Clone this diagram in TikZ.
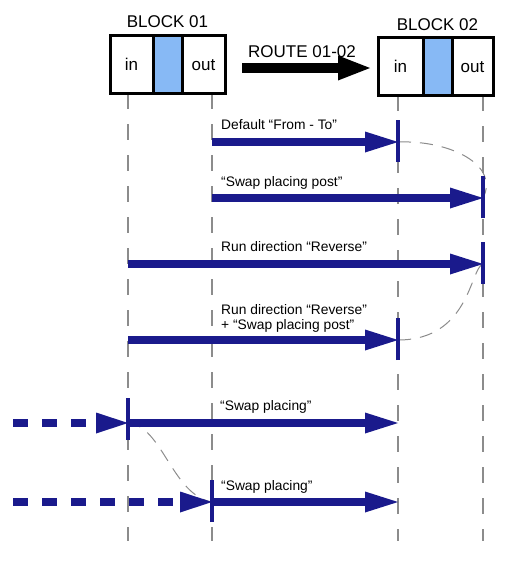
\documentclass[tikz,border=0pt]{standalone}
\usepackage{fontspec}
\setmainfont{Liberation Sans}
\usetikzlibrary{arrows.meta}
\definecolor{navy}{RGB}{26,26,140}
\definecolor{cellblue}{RGB}{135,185,245}
\definecolor{guide}{RGB}{140,140,140}
\begin{document}
\begin{tikzpicture}[x=1pt,y=-1pt,
  cell/.style={draw=black,line width=3pt,minimum height=58pt,inner sep=0pt,text height=12pt,text depth=0pt,font=\fontsize{17}{20}\selectfont},
  title/.style={font=\fontsize{17}{20}\selectfont,anchor=base,inner sep=0pt},
  lab/.style={font=\fontsize{13.8}{16}\selectfont,anchor=base west,inner sep=0pt},
  guideline/.style={draw=guide,line width=1.1pt,dash pattern=on 16pt off 15pt},
  swapcurve/.style={draw=guide,line width=1pt,dash pattern=on 13pt off 9pt},
  run/.style={draw=navy,line width=8pt,-{Triangle[length=33pt,width=21pt,line width=0pt]}},
  feed/.style={draw=navy,line width=8pt,dash pattern=on 15pt off 14pt,-{Triangle[length=32pt,width=21pt,line width=0pt]}},
  post/.style={draw=navy,line width=4pt},
  route/.style={draw=black,line width=10pt,-{Triangle[length=32pt,width=25pt,line width=0pt]}}]
\useasboundingbox (0,0) rectangle (515,573);

% guide coordinates
\coordinate (g1t) at (128,93);  \coordinate (g1b) at (128,541);
\coordinate (g2t) at (212,93);  \coordinate (g2b) at (212,541);
\coordinate (g3t) at (398,95);  \coordinate (g3b) at (398,541);
\coordinate (g4t) at (483,95);  \coordinate (g4b) at (483,541);
\draw[guideline] (g1t) -- (g1b);
\draw[guideline] (g2t) -- (g2b);
\draw[guideline] (g3t) -- (g3b);
\draw[guideline] (g4t) -- (g4b);

% row coordinates
\coordinate (r1from) at (212,142); \coordinate (r1to) at (398,142);
\coordinate (r2from) at (212,198); \coordinate (r2to) at (483,198);
\coordinate (r3from) at (128,264); \coordinate (r3to) at (483,264);
\coordinate (r4from) at (128,340); \coordinate (r4to) at (398,340);
\coordinate (r5from) at (128,423); \coordinate (r5to) at (398,423);
\coordinate (r6from) at (212,502); \coordinate (r6to) at (398,502);
\coordinate (f5) at (13,423);
\coordinate (f6) at (13,502);

% swap curves
\draw[swapcurve] (r1to) .. controls (450,140) and (500,165) .. (r2to);
\draw[swapcurve] (r3to) .. controls (470,268) and (470,340) .. (r4to);
\draw[swapcurve] (r5from) .. controls (162,425) and (172,495) .. (r6from);

% route arrow
\coordinate (rs) at (242,68); \coordinate (re) at (370,68);
\draw[route] (rs) -- (re);
\node[title] (rt) at (302,57) {ROUTE 01-02};

% run arrows
\draw[run] (r1from) -- (r1to);
\draw[run] (r2from) -- (r2to);
\draw[run] (r3from) -- (r3to);
\draw[run] (r4from) -- (r4to);
\draw[run] (r5from) -- (r5to);
\draw[run] (r6from) -- (r6to);
\draw[feed] (f5) -- (r5from);
\draw[feed] (f6) -- (r6from);

% placing posts
\draw[post] ([yshift=-20pt]r1to) -- ([yshift=22pt]r1to);
\draw[post] ([yshift=-20pt]r2to) -- ([yshift=22pt]r2to);
\draw[post] ([yshift=-20pt]r3to) -- ([yshift=22pt]r3to);
\draw[post] ([yshift=-20pt]r4to) -- ([yshift=22pt]r4to);
\draw[post] ([yshift=-17pt]r5from) -- ([yshift=25pt]r5from);
\draw[post] ([yshift=-20pt]r6from) -- ([yshift=22pt]r6from);

% blocks
\node[title] (t1) at (167.5,27) {BLOCK 01};
\node[cell,minimum width=43pt] (b1in) at (131.5,64) {in};
\node[cell,fill=cellblue,minimum width=29pt] (b1mid) at (167.5,64) {};
\node[cell,minimum width=43pt] (b1out) at (203.5,64) {out};
\node[title] (t2) at (437.5,30) {BLOCK 02};
\node[cell,minimum width=45pt] (b2in) at (400.5,66) {in};
\node[cell,fill=cellblue,minimum width=29pt] (b2mid) at (437.5,66) {};
\node[cell,minimum width=41pt] (b2out) at (472.5,66) {out};

% labels
\node[lab] (l1) at (221,129) {Default “From - To”};
\node[lab] (l2) at (221,186) {“Swap placing post”};
\node[lab] (l3) at (221,251) {Run direction “Reverse”};
\node[lab] (l4a) at (221,314) {Run direction “Reverse”};
\node[lab] (l4b) at (221,329) {+ “Swap placing post”};
\node[lab] (l5) at (220,410) {“Swap placing”};
\node[lab] (l6) at (221,490) {“Swap placing”};
\end{tikzpicture}
\end{document}
